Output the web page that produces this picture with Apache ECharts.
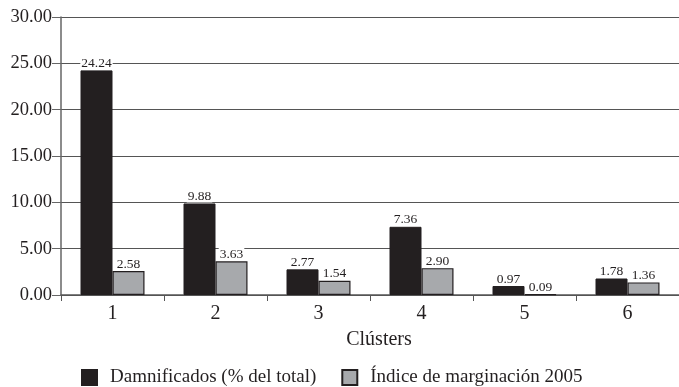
<!DOCTYPE html>
<html>
<head>
<meta charset="utf-8">
<script src="https://cdn.jsdelivr.net/npm/echarts@6/dist/echarts.min.js"></script>
<style>
  html, body { margin: 0; padding: 0; background: #fff; }
  #chart { width: 679px; height: 387px; }
</style>
</head>
<body>
<div id="chart"></div>
<script>
// Clusters and the two measured series
const clusters = ['1', '2', '3', '4', '5', '6'];
const damnificados = [24.24, 9.88, 2.77, 7.36, 0.97, 1.78];
const marginacion = [2.58, 3.63, 1.54, 2.90, 0.09, 1.36];
const yTicks = [0, 5, 10, 15, 20, 25, 30];

const serif = '"Liberation Serif", "DejaVu Serif", serif';
const ink = '#231f20';

const valueLabel = {
  show: true,
  position: 'top',
  distance: 1,
  fontFamily: serif,
  fontSize: 13.5,
  color: ink,
  backgroundColor: '#fff',
  padding: [0, 1, -1, 1],
  formatter: p => p.value.toFixed(2)
};

const chart = echarts.init(document.getElementById('chart'), null, { renderer: 'canvas' });
chart.setOption({
  animation: false,
  backgroundColor: '#fff',
  textStyle: { fontFamily: serif },
  grid: { left: 61, top: 17, bottom: 92, right: -9, containLabel: false },
  legend: {
    left: 81,
    top: 368,
    padding: 0,
    itemWidth: 15,
    itemHeight: 15,
    itemGap: 25,
    icon: 'rect',
    textStyle: { fontFamily: serif, fontSize: 19, color: ink, padding: [0, 0, 0, 8] },
    data: ['Damnificados (% del total)', 'Índice de marginación 2005']
  },
  xAxis: {
    type: 'category',
    data: clusters,
    name: 'Clústers',
    nameLocation: 'middle',
    nameGap: 35,
    nameTextStyle: { fontFamily: serif, fontSize: 20, color: ink, padding: [0, 0, 0, 18] },
    axisLine: { lineStyle: { color: '#555', width: 1.5 } },
    axisTick: { show: true, length: 6, lineStyle: { color: '#555' } },
    axisLabel: { fontFamily: serif, fontSize: 20, color: ink, margin: 9 }
  },
  yAxis: {
    type: 'value',
    min: yTicks[0],
    max: yTicks[yTicks.length - 1],
    interval: 5,
    axisLine: { show: true, lineStyle: { color: '#666', width: 1.5 } },
    axisTick: { show: true, length: 9, lineStyle: { color: '#666' } },
    axisLabel: {
      fontFamily: serif, fontSize: 18.5, color: ink, margin: 9,
      formatter: v => v.toFixed(2)
    },
    splitLine: { show: true, lineStyle: { color: '#555', width: 1.2 } }
  },
  series: [
    {
      name: 'Damnificados (% del total)',
      type: 'bar',
      data: damnificados,
      barWidth: 32,
      barGap: '0%',
      itemStyle: { color: ink, borderColor: ink, borderWidth: 1 },
      label: valueLabel,
      z: 3
    },
    {
      name: 'Índice de marginación 2005',
      type: 'bar',
      data: marginacion,
      barWidth: 32,
      barGap: '0%',
      itemStyle: { color: '#a7a9ac', borderColor: ink, borderWidth: 1.2 },
      label: valueLabel,
      z: 3
    }
  ]
});
</script>
</body>
</html>
